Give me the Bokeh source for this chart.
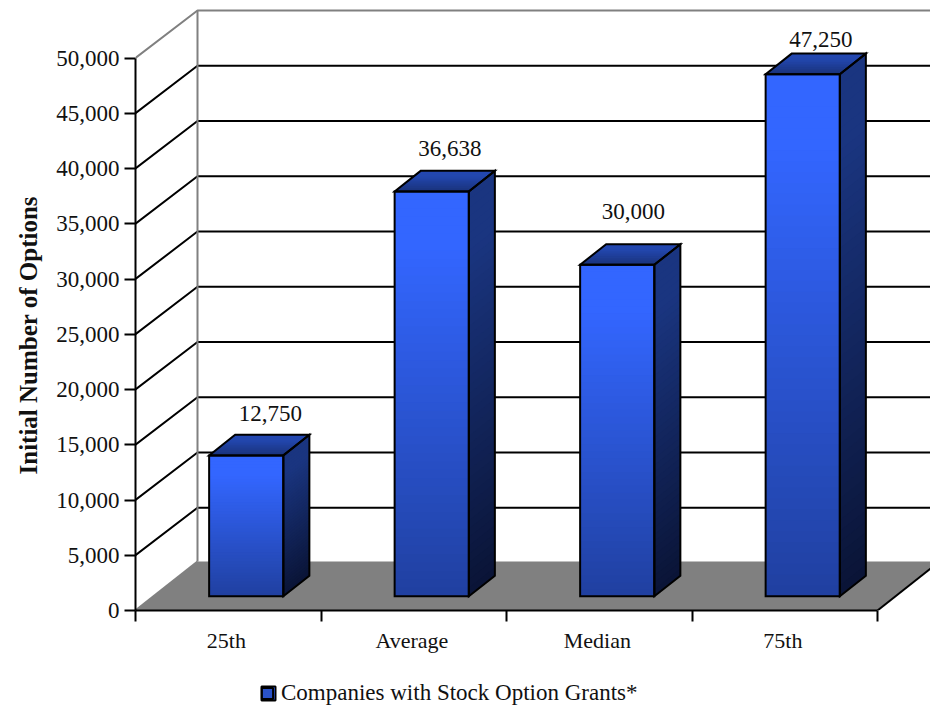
from bokeh.core.properties import value
from bokeh.embed import file_html
from bokeh.layouts import column
from bokeh.models import ColumnDataSource, FixedTicker, Legend, LegendItem, NumeralTickFormatter, Title
from bokeh.plotting import figure
from bokeh.resources import INLINE

categories = ["25th", "Average", "Median", "75th"]
option_grants = [12750, 36638, 30000, 47250]
value_ticks = [0, 5000, 10000, 15000, 20000, 25000, 30000, 35000, 40000, 45000, 50000]
series_name = "Companies with Stock Option Grants*"
axis_title = "Initial Number of Options"

FONT = "Liberation Serif"
WIDTH, HEIGHT = 930, 705
LEGEND_HEIGHT = 35
LEFT, BOTTOM = 135, 610
PX_PER_CATEGORY = 185.5
PX_PER_VALUE = 0.01105

# Extent of the receding floor, in data units
DEPTH_X = 62 / PX_PER_CATEGORY
DEPTH_Y = 49 / PX_PER_VALUE
WALL_RISE = 47.5 / PX_PER_VALUE

# Bar placement inside a category and along the floor's depth
BAR_START, BAR_END = 0.30, 0.70
DEPTH_FRONT, DEPTH_BACK = 0.29, 0.71

# Per-label nudges in pixels from the centre of the bar's back top edge
LABEL_NUDGE_X = [-2, -8, -10, -8]
LABEL_NUDGE_Y = [-21, -22, -33, -14]


def project(x, y, depth):
    return x + depth * DEPTH_X, y + depth * DEPTH_Y


def mix(stops, t):
    for (t0, c0), (t1, c1) in zip(stops, stops[1:]):
        if t <= t1:
            f = (t - t0) / (t1 - t0)
            rgb = [round(a + (b - a) * f) for a, b in zip(c0, c1)]
            return "#%02x%02x%02x" % tuple(rgb)
    return "#%02x%02x%02x" % stops[-1][1]


FRONT_SHADE = [(0.0, (51, 102, 255)), (0.14, (51, 102, 255)), (1.0, (32, 64, 160))]
SIDE_SHADE = [(0.0, (26, 53, 128)), (0.14, (26, 53, 128)), (1.0, (10, 20, 54))]
TOP_SHADE = [(0.0, (26, 50, 122)), (0.7, (34, 70, 172)), (1.0, (36, 72, 178))]

p = figure(
    width=WIDTH, height=HEIGHT - LEGEND_HEIGHT,
    x_range=(0, (WIDTH - LEFT) / PX_PER_CATEGORY),
    y_range=(0, BOTTOM / PX_PER_VALUE),
    min_border_left=LEFT, min_border_right=0, min_border_top=0,
    min_border_bottom=HEIGHT - LEGEND_HEIGHT - BOTTOM,
    output_backend="svg", toolbar_location=None,
    background_fill_color="white", border_fill_color="white",
)
p.outline_line_color = None
p.grid.visible = False

# Floor
end = len(categories)
corners = [project(0, 0, 0), project(end, 0, 0), project(end, 0, 1), project(0, 0, 1)]
p.patch([c[0] for c in corners], [c[1] for c in corners], fill_color="#808080", line_color=None)
p.line([project(end, 0, 0)[0], project(end, 0, 1)[0]], [0, DEPTH_Y], line_color="black", line_width=2)
p.line([0, DEPTH_X], [0, DEPTH_Y], line_color="#808080", line_width=2)

# Gridlines on the side wall and the back wall
grid_values = value_ticks[1:-1]
p.multi_line(
    [[0, DEPTH_X, end + DEPTH_X] for _ in grid_values],
    [[v, v + WALL_RISE, v + WALL_RISE] for v in grid_values],
    line_color="black", line_width=2,
)
top = value_ticks[-1]
p.line([0, DEPTH_X, end + DEPTH_X], [top, top + WALL_RISE, top + WALL_RISE], line_color="#808080", line_width=2)
p.line([DEPTH_X, DEPTH_X], [DEPTH_Y, top + WALL_RISE], line_color="#808080", line_width=2)

# Faces of the bars; each strip runs one strip past its end so that the next one overlaps it
STRIPS = 48
TOP_STRIPS = 12
fx, fy, fc = [], [], []
sx, sy, sc = [], [], []
tx, ty, tc = [], [], []
outline_x, outline_y = [], []
for i, v in enumerate(option_grants):
    x0, x1 = i + BAR_START, i + BAR_END
    for k in range(STRIPS):
        t_mid = (k + 0.5) / STRIPS
        y_hi, y_lo = v * (1 - k / STRIPS), v * max(0, 1 - (k + 2) / STRIPS)
        pts = [project(x0, y_lo, DEPTH_FRONT), project(x1, y_lo, DEPTH_FRONT),
               project(x1, y_hi, DEPTH_FRONT), project(x0, y_hi, DEPTH_FRONT)]
        fx.append([a for a, _ in pts])
        fy.append([b for _, b in pts])
        fc.append(mix(FRONT_SHADE, t_mid))
        pts = [project(x1, y_lo, DEPTH_FRONT), project(x1, y_lo, DEPTH_BACK),
               project(x1, y_hi, DEPTH_BACK), project(x1, y_hi, DEPTH_FRONT)]
        sx.append([a for a, _ in pts])
        sy.append([b for _, b in pts])
        sc.append(mix(SIDE_SHADE, t_mid))
    for k in range(TOP_STRIPS):
        t_mid = (k + 0.5) / TOP_STRIPS
        d0 = DEPTH_FRONT + (DEPTH_BACK - DEPTH_FRONT) * k / TOP_STRIPS
        d1 = DEPTH_FRONT + (DEPTH_BACK - DEPTH_FRONT) * min(1, (k + 2) / TOP_STRIPS)
        pts = [project(x0, v, d0), project(x1, v, d0), project(x1, v, d1), project(x0, v, d1)]
        tx.append([a for a, _ in pts])
        ty.append([b for _, b in pts])
        tc.append(mix(TOP_SHADE, t_mid))
    for face in (
        [project(x0, 0, DEPTH_FRONT), project(x1, 0, DEPTH_FRONT),
         project(x1, v, DEPTH_FRONT), project(x0, v, DEPTH_FRONT)],
        [project(x1, 0, DEPTH_FRONT), project(x1, 0, DEPTH_BACK),
         project(x1, v, DEPTH_BACK), project(x1, v, DEPTH_FRONT)],
        [project(x0, v, DEPTH_FRONT), project(x1, v, DEPTH_FRONT),
         project(x1, v, DEPTH_BACK), project(x0, v, DEPTH_BACK)],
    ):
        outline_x.append([a for a, _ in face])
        outline_y.append([b for _, b in face])

p.patches(fx, fy, fill_color=fc, line_color=None)
p.patches(sx, sy, fill_color=sc, line_color=None)
p.patches(tx, ty, fill_color=tc, line_color=None)
p.patches(outline_x, outline_y, fill_color=None, line_color="black", line_width=2, line_join="miter")

# Value labels above each bar
label_source = ColumnDataSource(dict(
    x=[project(i + (BAR_START + BAR_END) / 2, v, DEPTH_BACK)[0] for i, v in enumerate(option_grants)],
    y=[project(0, v, DEPTH_BACK)[1] for v in option_grants],
    text=[f"{v:,}" for v in option_grants],
    dx=LABEL_NUDGE_X,
    dy=LABEL_NUDGE_Y,
))
p.text(x="x", y="y", text="text", x_offset="dx", y_offset="dy", source=label_source,
       text_font=value(FONT), text_font_size="23px", text_color="#111111",
       text_align="center", text_baseline="middle")

# Value axis
yaxis = p.yaxis[0]
yaxis.ticker = FixedTicker(ticks=value_ticks)
yaxis.bounds = (value_ticks[0], value_ticks[-1])
yaxis.formatter = NumeralTickFormatter(format="0,0")
yaxis.axis_line_color = "black"
yaxis.axis_line_width = 2
yaxis.major_tick_line_color = "black"
yaxis.major_tick_line_width = 2
yaxis.major_tick_in = 0
yaxis.major_tick_out = 11
yaxis.minor_tick_line_color = None
yaxis.major_label_standoff = 5
yaxis.major_label_text_font = FONT
yaxis.major_label_text_font_size = "23px"
yaxis.major_label_text_color = "#111111"

# The value axis title runs up from a point above the frame's bottom edge
p.add_layout(Title(
    text=axis_title, align="left", offset=136, standoff=24,
    text_font=FONT, text_font_size="25px", text_font_style="bold", text_color="#111111",
), "left")

# Category axis: labels sit between the tick marks, so the marks are minor ticks
xaxis = p.xaxis[0]
centres = [i + 0.49 for i in range(end)]
xaxis.ticker = FixedTicker(ticks=centres, minor_ticks=list(range(end + 1)))
xaxis.major_label_overrides = {c: name for c, name in zip(centres, categories)}
xaxis.bounds = (0, end)
xaxis.axis_line_color = "black"
xaxis.axis_line_width = 2
xaxis.major_tick_line_color = None
xaxis.major_tick_in = 0
xaxis.major_tick_out = 0
xaxis.minor_tick_line_color = "black"
xaxis.minor_tick_line_width = 2
xaxis.minor_tick_in = 0
xaxis.minor_tick_out = 11
xaxis.major_label_standoff = 6
xaxis.major_label_text_font = FONT
xaxis.major_label_text_font_size = "22px"
xaxis.major_label_text_color = "#111111"

# Legend strip under the chart; its frame lines up with the chart's frame, so its
# x range starts at the chart's left edge and one data unit is one pixel
KEY_LEFT, KEY_TOP, KEY_SIZE = 261, 16, 14
strip = figure(
    width=WIDTH, height=LEGEND_HEIGHT,
    x_range=(LEFT, WIDTH), y_range=(LEGEND_HEIGHT, 0),
    x_axis_type=None, y_axis_type=None, min_border=0, min_border_left=LEFT,
    output_backend="svg", toolbar_location=None,
)
strip.outline_line_color = None
strip.grid.visible = False

key = strip.quad(
    left=[KEY_LEFT], right=[KEY_LEFT + KEY_SIZE], top=[KEY_TOP], bottom=[KEY_TOP + KEY_SIZE],
    fill_color="#2a52c8", line_color="black", line_width=2,
)
legend = Legend(
    items=[LegendItem(label=series_name, renderers=[key])],
    location=(KEY_LEFT - LEFT - 1, -1), orientation="horizontal",
    border_line_color=None, background_fill_alpha=0,
    padding=0, margin=0, spacing=0,
    glyph_width=KEY_SIZE, glyph_height=KEY_SIZE, label_standoff=7, label_height=KEY_SIZE,
    label_text_font=FONT, label_text_font_size="23px", label_text_color="#111111",
)
strip.add_layout(legend, "center")

# Shading of the key, laid over the legend's solid swatch
for k in range(KEY_SIZE - 2):
    strip.quad(
        left=[KEY_LEFT + 1], right=[KEY_LEFT + KEY_SIZE - 1],
        top=[KEY_TOP + 1 + k], bottom=[KEY_TOP + 2 + k],
        fill_color=mix(FRONT_SHADE, (k + 0.5) / (KEY_SIZE - 2)), line_color=None, level="overlay",
    )

page = column(p, strip, spacing=0)
open("out.html", "w").write(file_html(page, INLINE))
